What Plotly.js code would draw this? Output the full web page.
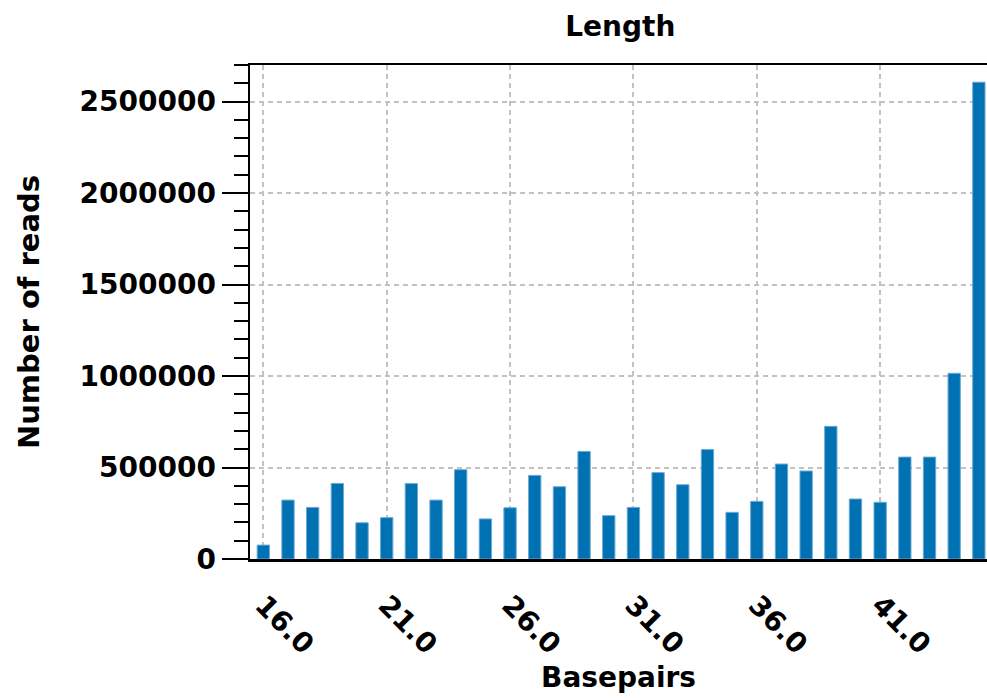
<!DOCTYPE html>
<html>
<head>
<meta charset="utf-8">
<script src="https://cdn.plot.ly/plotly-3.0.1.min.js"></script>
<style>html,body{margin:0;padding:0;background:#fff;}#chart{width:987px;height:700px;}</style>
</head>
<body>
<div id="chart"></div>
<script>
const basepairs = [16,17,18,19,20,21,22,23,24,25,26,27,28,29,30,31,32,33,34,35,36,37,38,39,40,41,42,43,44,45];
const reads = [76000,322000,282000,413000,198000,226000,412000,322000,488000,219000,280000,457000,395000,588000,237000,282000,472000,406000,598000,255000,315000,519000,481000,725000,328000,310000,557000,557000,1015000,2606000];
const xTickVals = [16,21,26,31,36,41];
const xTickText = ["16.0","21.0","26.0","31.0","36.0","41.0"];
const yTickVals = [0,500000,1000000,1500000,2000000,2500000];
const yTickText = ["0","500000","1000000","1500000","2000000","2500000"];

const titleFont = {family: "DejaVu Sans", size: 28, color: "#000", weight: "bold"};
const tickFont = {family: "DejaVu Sans", size: 28, color: "#000", weight: "bold"};

const trace = {
  type: "bar",
  x: basepairs,
  y: reads,
  width: 0.5,
  marker: {color: "#0071b3", line: {color: "#6aaad6", width: 1}},
  hoverinfo: "x+y"
};

const layout = {
  width: 987, height: 700,
  margin: {l: 250, r: 0, t: 65, b: 141},
  paper_bgcolor: "#fff", plot_bgcolor: "#fff",
  showlegend: false,
  font: tickFont,
  title: {text: "Length", font: titleFont, x: 0.6285, xanchor: "center", y: 0.963, yanchor: "middle"},
  xaxis: {
    range: [15.46, 45.33],
    tickvals: xTickVals, ticktext: xTickText,
    tickangle: 45,
    ticks: "",
    tickfont: tickFont,
    showline: true, linecolor: "#000", linewidth: 2.5, mirror: true,
    showgrid: true, gridcolor: "#c2c2c2", griddash: "5px,4px", gridwidth: 2,
    zeroline: false,
    ticklabelstandoff: 16,
    title: {text: "Basepairs", font: titleFont, standoff: 1}
  },
  yaxis: {
    range: [0, 2700000],
    tickvals: yTickVals, ticktext: yTickText,
    ticks: "outside", ticklen: 26, tickwidth: 2, tickcolor: "#000",
    tickfont: tickFont,
    showline: true, linecolor: "#000", linewidth: 2.5,
    showgrid: true, gridcolor: "#c2c2c2", griddash: "5px,4px", gridwidth: 2,
    zeroline: false,
    minor: {dtick: 100000, tick0: 0, ticks: "outside", ticklen: 14, tickwidth: 2, tickcolor: "#000", showgrid: false},
    title: {text: "Number of reads", font: Object.assign({}, titleFont, {size: 29}), standoff: 32}
  }
};

Plotly.newPlot("chart", [trace], layout, {displayModeBar: false, staticPlot: true});
</script>
</body>
</html>
